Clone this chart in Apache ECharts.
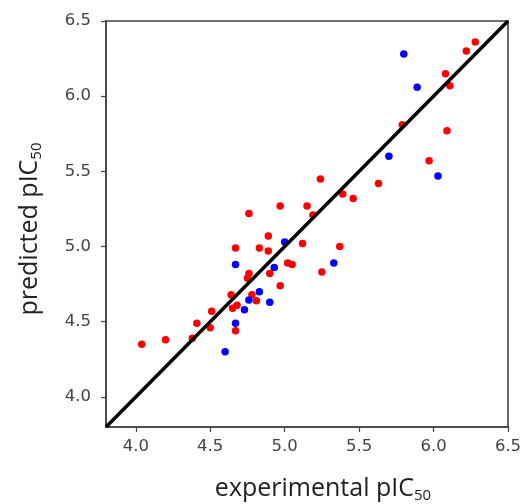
<!DOCTYPE html>
<html>
<head>
<meta charset="utf-8">
<script src="https://cdn.jsdelivr.net/npm/echarts@6/dist/echarts.min.js"></script>
<style>html,body{margin:0;padding:0;background:#fff}#c{width:527px;height:504px}</style>
</head>
<body>
<div id="c"></div>
<script>
// training set (red)
const redPoints = [
  [6.28,6.36],[6.22,6.30],[6.08,6.15],[6.11,6.07],[5.79,5.81],[6.09,5.77],[5.97,5.57],
  [5.24,5.45],[5.63,5.42],[5.46,5.32],[5.39,5.35],[4.97,5.27],[5.15,5.27],[4.76,5.22],[5.19,5.21],
  [4.89,5.07],[5.12,5.02],[5.37,5.00],[4.67,4.99],[4.83,4.99],[4.89,4.97],[5.02,4.89],[5.05,4.88],
  [5.25,4.83],[4.76,4.82],[4.75,4.79],[4.90,4.82],[4.97,4.74],[4.64,4.68],[4.78,4.68],[4.81,4.64],
  [4.68,4.61],[4.65,4.59],[4.51,4.57],[4.41,4.49],[4.50,4.46],[4.67,4.44],[4.04,4.35],[4.20,4.38],[4.38,4.39]
];
// test set (blue)
const bluePoints = [
  [5.80,6.28],[5.89,6.06],[5.70,5.60],[6.03,5.47],[5.00,5.03],[4.67,4.88],[4.93,4.86],[5.33,4.89],
  [4.83,4.70],[4.76,4.645],[4.90,4.63],[4.73,4.58],[4.67,4.49],[4.60,4.30]
];
const diagonal = [[3.8,3.8],[6.5,6.5]];
const tickValues = [4.0,4.5,5.0,5.5,6.0,6.5];
const axisMin = 3.8, axisMax = 6.5;

const chart = echarts.init(document.getElementById('c'), null, {renderer:'canvas'});
const axisCommon = {
  type:'value', min:axisMin, max:axisMax,
  splitLine:{show:false},
  axisLine:{show:true, onZero:false, lineStyle:{color:'#444', width:1.6}},
  axisTick:{show:true, length:5, customValues:tickValues, lineStyle:{color:'#444', width:1.2}},
  axisLabel:{customValues:tickValues, formatter:v=>v.toFixed(1), color:'#444',
    fontFamily:'DejaVu Sans', fontSize:16.5}
};
chart.setOption({
  animation:false,
  grid:{left:106, right:19, top:21, bottom:77, show:true, borderColor:'#444', borderWidth:1.6},
  xAxis:Object.assign({}, axisCommon, {axisLabel:Object.assign({}, axisCommon.axisLabel, {margin:11})}),
  yAxis:Object.assign({}, axisCommon, {axisLabel:Object.assign({}, axisCommon.axisLabel, {margin:15})}),
  series:[
    {type:'scatter', data:redPoints, symbolSize:7.5, itemStyle:{color:'#ff0000', opacity:1}, z:2},
    {type:'scatter', data:bluePoints, symbolSize:7.5, itemStyle:{color:'#0000ff', opacity:1}, z:2},
    {type:'line', data:diagonal, symbol:'none', lineStyle:{color:'#000', width:3.5}, z:5}
  ],
  graphic:[
    {type:'text', x:323, y:489, style:{
      text:'experimental pIC{s|50}', align:'center', verticalAlign:'middle',
      fontFamily:'Open Sans', fontSize:25, fill:'#222',
      rich:{s:{fontSize:15, padding:[14,0,0,0], fontFamily:'Open Sans', fill:'#222'}}}},
    {type:'text', x:30, y:229, rotation:Math.PI/2, style:{
      text:'predicted pIC{s|50}', align:'center', verticalAlign:'middle',
      fontFamily:'Open Sans', fontSize:25, fill:'#222',
      rich:{s:{fontSize:15, padding:[14,0,0,0], fontFamily:'Open Sans', fill:'#222'}}}}
  ]
});
</script>
</body>
</html>
